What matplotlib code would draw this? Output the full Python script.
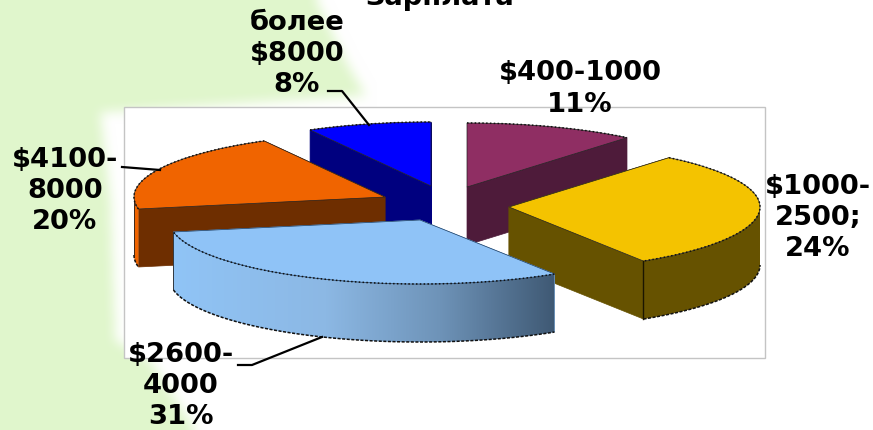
import numpy as np
import matplotlib
matplotlib.use('Agg')
import matplotlib.pyplot as plt
from matplotlib.patches import Polygon, Rectangle

# Data: drawn shares of the pie and the labels printed on the chart
categories = ['$400-1000', '$1000-2500', '$2600-4000', '$4100-8000', 'более $8000']
shares = [11, 30, 31, 20, 8]
label_texts = ['$400-1000\n11%', '$1000-\n2500;\n24%', '$2600-\n4000\n31%', '$4100-\n8000\n20%', 'более\n$8000\n8%']
title_text = 'Зарплата'

# Styles
top_colors = ['#8F2E63', '#F4C300', '#8FC3F7', '#F06400', '#0000FF']
side_colors = ['#4E1B3A', '#665200', '#8FC3F7', '#6E2E00', '#00007F']
rim_colors = ['#4E1B3A', '#665200', '#8FC3F7', '#F06400', '#00007F']

# Layout, in pixels of the 873x430 picture
slice_centres = [(467, 187), (509, 207), (420, 220), (385, 197), (431, 186)]
draw_order = [4, 0, 3, 1, 2]
label_pos = [(580, 89), (818, 218), (181, 386), (65, 191), (297, 54)]
leaders = [
    [(328, 91), (342, 91), (369, 125)],
    [(122, 167), (160, 170)],
    [(238, 365), (252, 365), (322, 337)],
]
rx, ry, depth = 251, 64, 58

fig = plt.figure(figsize=(8.73, 4.30), dpi=100)
ax = fig.add_axes([0, 0, 1, 1])
ax.set_xlim(0, 873)
ax.set_ylim(430, 0)
ax.axis('off')

# Pale green backdrop with a soft edge
yy = np.arange(430)
edge = np.interp(yy, [0, 60, 95, 112, 200, 340, 360, 430], [316, 345, 365, 100, 110, 115, 150, 195])
mask = (np.arange(873)[None, :] < edge[:, None]).astype(float)
kernel = np.ones(13) / 13
for _ in range(2):
    mask = np.apply_along_axis(lambda r: np.convolve(np.pad(r, 6, mode='edge'), kernel, mode='valid'), 1, mask)
    mask = np.apply_along_axis(lambda c: np.convolve(np.pad(c, 6, mode='edge'), kernel, mode='valid'), 0, mask)
bg = np.ones((430, 873, 3))
green = np.array([0xE0, 0xF6, 0xCC]) / 255
bg = bg * (1 - mask[..., None]) + green * mask[..., None]
ax.imshow(bg, extent=(0, 873, 430, 0), aspect='auto', zorder=0)

# Plot area
ax.add_patch(Rectangle((124, 107), 641, 251, fc='white', ec='#C4C4C4', lw=1, zorder=1))

# Slice boundaries, clockwise from 12 o'clock
bounds = np.radians(np.concatenate([[0], np.cumsum(shares)]) * 3.6)


def arc(cx, cy, a0, a1):
    t = np.linspace(a0, a1, 80)
    return np.column_stack([cx + rx * np.sin(t), cy - ry * np.cos(t)])


z = 2
for i in draw_order:
    cx, cy = slice_centres[i]
    a0, a1 = bounds[i], bounds[i + 1]
    outer = arc(cx, cy, a0, a1)
    apex = np.array([[cx, cy]])
    down = np.array([0, depth])

    # radial walls
    for corner in (outer[0], outer[-1]):
        wall = np.array([[cx, cy], corner, corner + down, [cx, cy + depth]])
        ax.add_patch(Polygon(wall, fc=side_colors[i], ec=side_colors[i], lw=0.5, zorder=z))

    # curved wall, only the part that faces the viewer
    lo, hi = max(a0, np.pi / 2), min(a1, 3 * np.pi / 2)
    if hi > lo:
        rim_top = arc(cx, cy, lo, hi)
        rim = np.vstack([rim_top, rim_top[::-1] + down])
        rim_patch = Polygon(rim, fc=rim_colors[i], ec='none', zorder=z)
        ax.add_patch(rim_patch)
        if i == 2:
            # light runs from left to right along the big slice
            ramp = np.linspace(0, 1, 256)
            stops = np.array([[0x90, 0xC4, 0xF6], [0x8C, 0xB8, 0xE4], [0x6E, 0x93, 0xB8], [0x3F, 0x59, 0x74]]) / 255
            grad = np.column_stack([np.interp(ramp, [0, 0.4, 0.7, 1], stops[:, k]) for k in range(3)])[None, :, :]
            x0, x1 = rim[:, 0].min(), rim[:, 0].max()
            y0, y1 = rim[:, 1].min(), rim[:, 1].max()
            im = ax.imshow(grad, extent=(x0, x1, y1, y0), aspect='auto', zorder=z)
            im.set_clip_path(rim_patch)
            ax.set_xlim(0, 873)
            ax.set_ylim(430, 0)
        line = np.vstack([rim_top[::-1] + down])
        ax.plot(line[:, 0], line[:, 1], color='#111111', lw=1.1, ls=(0, (2, 1)), zorder=z)
        ax.plot([rim_top[-1, 0]] * 2, [rim_top[-1, 1], rim_top[-1, 1] + depth], color='#222222', lw=0.6, zorder=z)

    # top face
    top = np.vstack([apex, outer])
    edge_col = '#1C3A5C' if i == 2 else '#222222'
    ax.add_patch(Polygon(top, fc=top_colors[i], ec=edge_col, lw=0.5, zorder=z + 0.1))
    ax.plot(outer[:, 0], outer[:, 1], color='#111111', lw=1.1, ls=(0, (1, 1.5)), zorder=z + 0.2)
    z += 1

# Yellow slice corner line
cx, cy = slice_centres[1]
corner = arc(cx, cy, bounds[1], bounds[2])[-1]
ax.plot([corner[0]] * 2, [corner[1], corner[1] + depth], color='#1A1500', lw=1, zorder=5.5)

# Leader lines
for pts in leaders:
    pts = np.array(pts)
    ax.plot(pts[:, 0], pts[:, 1], color='black', lw=1.6, zorder=20)

# Labels
for (x, y), txt in zip(label_pos, label_texts):
    ax.text(x, y, txt, ha='center', va='center', fontsize=19.7, fontweight='bold',
            family='DejaVu Sans', color='black', linespacing=1.27, zorder=21)
ax.text(440, 5, title_text, ha='center', va='baseline', fontsize=19.7, fontweight='bold',
        family='DejaVu Sans', color='black', zorder=21)

fig.savefig('out.png', dpi=100)
